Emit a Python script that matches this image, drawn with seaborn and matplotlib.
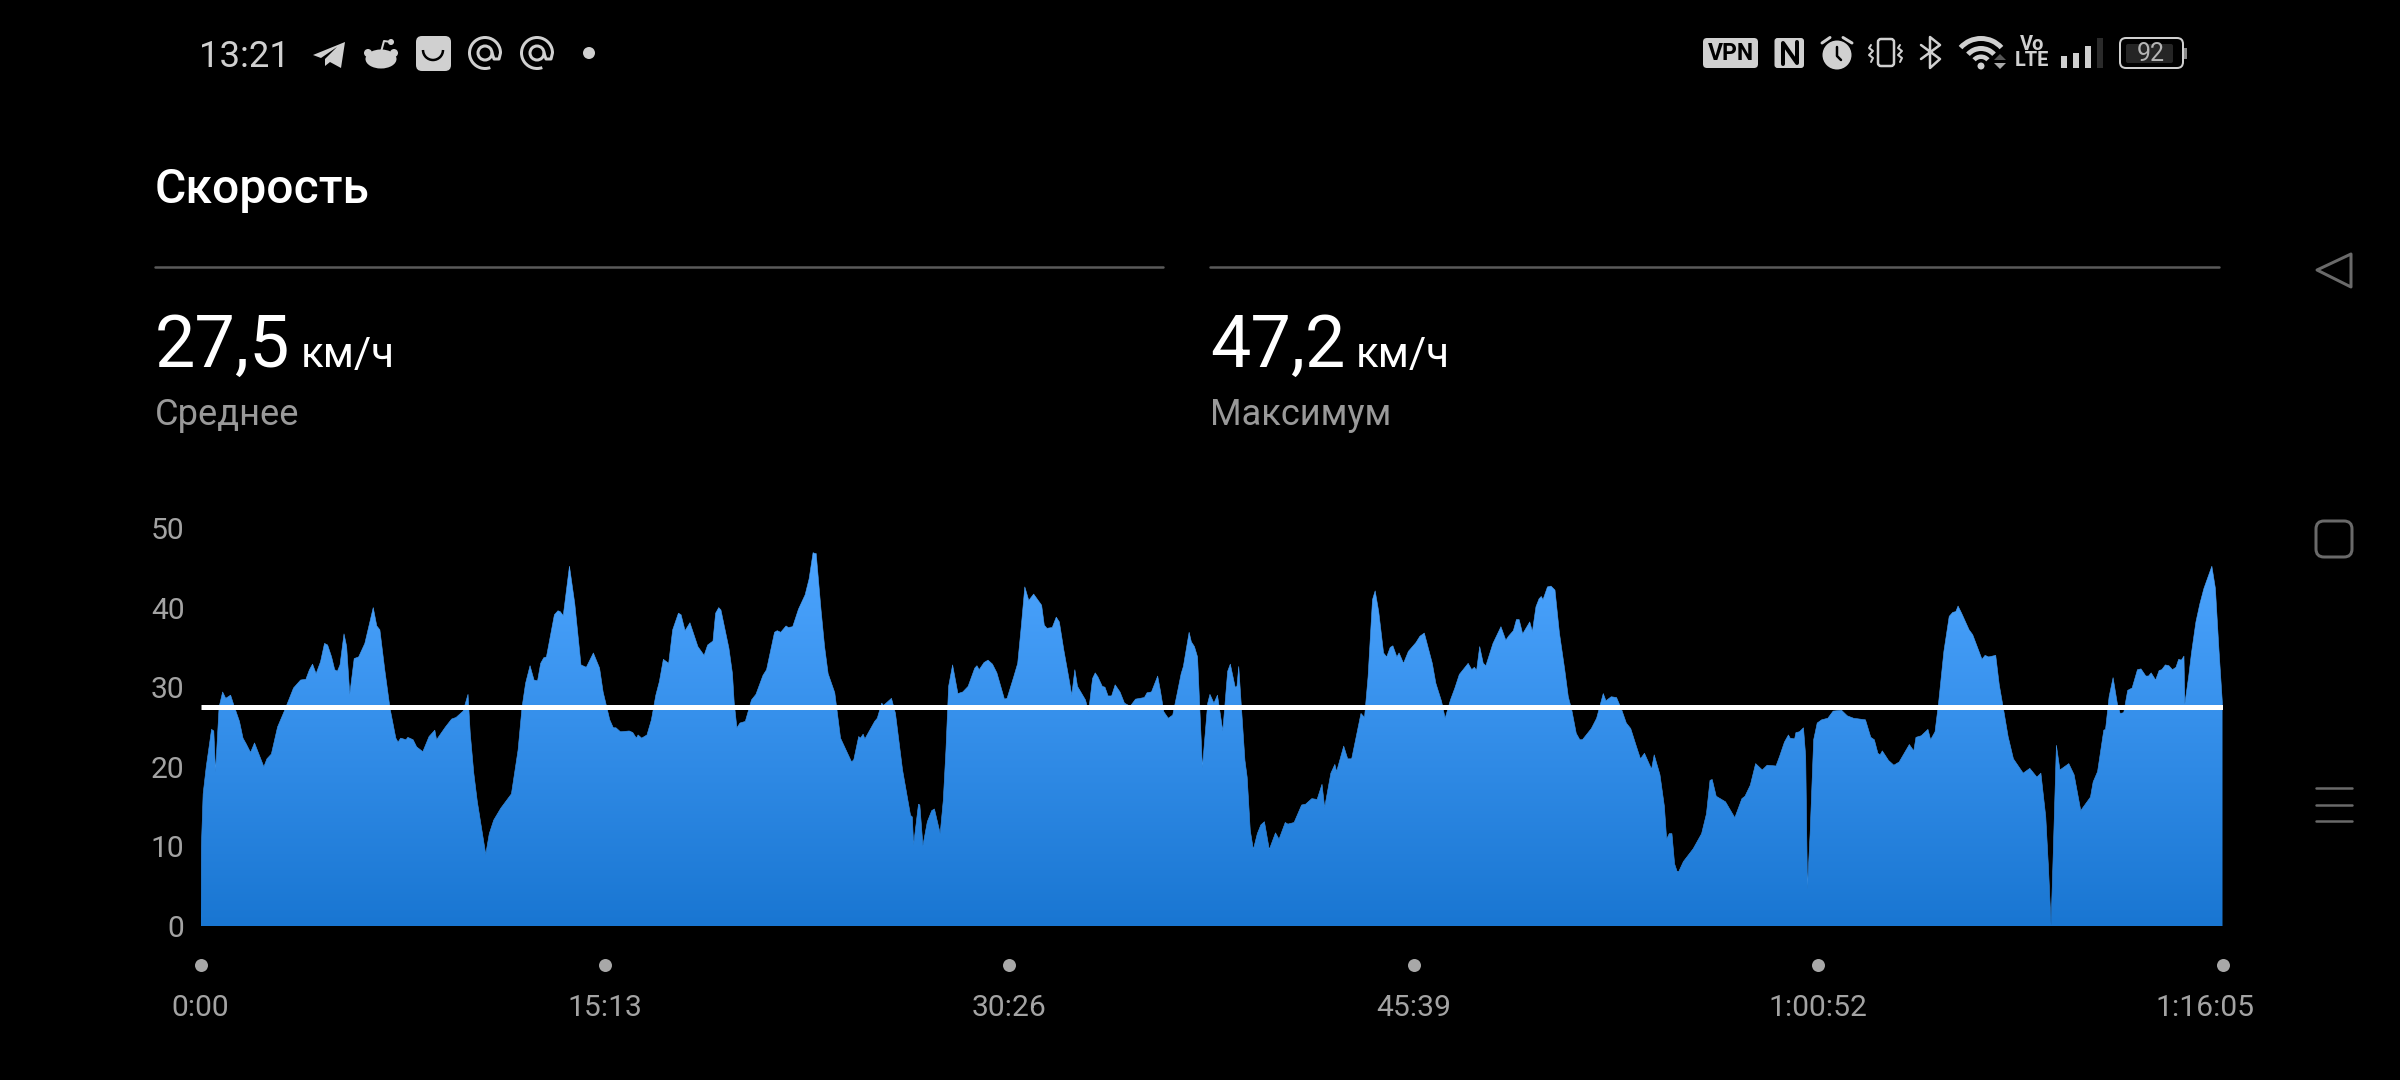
import numpy as np
import pandas as pd
import matplotlib
matplotlib.use("Agg")
import matplotlib.pyplot as plt
import seaborn as sns
from matplotlib.colors import LinearSegmentedColormap
from matplotlib.patches import Circle, Ellipse, FancyBboxPatch, Polygon, Wedge, Arc
from matplotlib.transforms import ScaledTranslation

# speed trace, seconds from start and km/h
seconds = [
    1, 2, 6, 13, 25, 30, 34, 42, 50, 57, 68, 75, 88, 96, 103, 113, 122, 143, 150, 160,
    174, 190, 210, 226, 238, 246, 253, 261, 271, 280, 287, 296, 303, 309, 315, 324, 330, 337, 347, 357,
    371, 390, 398, 405, 416, 428, 441, 446, 452, 464, 468, 480, 488, 502, 516, 529, 533, 553, 567, 577,
    593, 604, 609, 617, 625, 644, 652, 662, 678, 702, 717, 726, 734, 744, 753, 761, 768, 775, 781, 799,
    807, 812, 819, 833, 845, 859, 871, 887, 901, 909, 924, 932, 938, 948, 968, 976, 984, 988, 996, 1008,
    1018, 1028, 1036, 1045, 1057, 1066, 1079, 1085, 1094, 1105, 1123, 1137, 1145, 1157, 1163, 1170, 1175, 1193, 1201, 1205,
    1211, 1218, 1230, 1244, 1254, 1270, 1278, 1296, 1302, 1310, 1322, 1327, 1337, 1350, 1365, 1374, 1383, 1387, 1390, 1401,
    1409, 1417, 1432, 1445, 1470, 1475, 1486, 1490, 1496, 1500, 1522, 1528, 1538, 1542, 1560, 1569, 1585, 1603, 1607, 1610,
    1621, 1624, 1631, 1641, 1651, 1657, 1670, 1677, 1683, 1689, 1698, 1710, 1721, 1733, 1748, 1753, 1758, 1769, 1778, 1788,
    1798, 1815, 1821, 1836, 1845, 1853, 1861, 1870, 1881, 1899, 1905, 1911, 1923, 1932, 1939, 1949, 1960, 1967, 1974, 1980,
    1998, 2005, 2014, 2020, 2026, 2036, 2042, 2049, 2057, 2065, 2076, 2086, 2099, 2111, 2131, 2137, 2147, 2161, 2167, 2175,
    2185, 2195, 2205, 2214, 2219, 2232, 2237, 2244, 2251, 2256, 2262, 2274, 2279, 2288, 2296, 2308, 2319, 2325, 2336, 2340,
    2344, 2350, 2358, 2363, 2370, 2377, 2386, 2394, 2402, 2413, 2427, 2435, 2449, 2455, 2469, 2486, 2495, 2509, 2521, 2532,
    2538, 2552, 2561, 2565, 2581, 2590, 2599, 2620, 2628, 2636, 2646, 2652, 2660, 2671, 2678, 2686, 2692, 2701, 2706, 2716,
    2727, 2744, 2753, 2763, 2781, 2789, 2802, 2810, 2822, 2832, 2842, 2862, 2870, 2876, 2881, 2888, 2896, 2902, 2918, 2936,
    2947, 2953, 2964, 2971, 2977, 2985, 3001, 3007, 3015, 3022, 3027, 3031, 3041, 3049, 3058, 3068, 3080, 3088, 3096, 3106,
    3114, 3120, 3140, 3152, 3167, 3173, 3185, 3197, 3209, 3219, 3229, 3241, 3251, 3260, 3276, 3282, 3295, 3305, 3310, 3316,
    3322, 3328, 3334, 3338, 3348, 3370, 3389, 3400, 3408, 3413, 3422, 3443, 3464, 3480, 3487, 3499, 3511, 3526, 3537, 3557,
    3565, 3576, 3585, 3589, 3599, 3602, 3610, 3619, 3624, 3628, 3634, 3642, 3650, 3660, 3674, 3686, 3705, 3718, 3732, 3759,
    3771, 3779, 3787, 3792, 3797, 3811, 3823, 3835, 3858, 3868, 3873, 3885, 3900, 3906, 3916, 3924, 3936, 3948, 3956, 3963,
    3968, 3976, 3993, 4001, 4014, 4022, 4029, 4037, 4053, 4061, 4071, 4081, 4093, 4115, 4130, 4146, 4155, 4166, 4172, 4178,
    4182, 4190, 4198, 4218, 4230, 4245, 4267, 4273, 4283, 4297, 4301, 4309, 4318, 4328, 4334, 4342, 4351, 4361, 4373, 4381,
    4392, 4398, 4404, 4414, 4422, 4428, 4436, 4444, 4452, 4460, 4466, 4472, 4478, 4480, 4489, 4495, 4505, 4514, 4523, 4530,
    4541, 4549, 4557, 4565,
]
speed = [
    0, 9.9, 16.6, 20.0, 24.7, 24.5, 19.4, 27.5, 29.4, 28.6, 29.0, 27.8, 25.7, 23.6, 22.9, 21.8, 23.0, 20.0, 21.0, 21.6,
    25.0, 27.1, 29.9, 30.9, 31.0, 32.2, 32.9, 31.7, 33.2, 35.5, 35.3, 33.8, 32.2, 32.0, 32.8, 36.7, 35.1, 29.1, 33.6, 33.8,
    35.5, 40.0, 37.7, 37.2, 32.2, 27.3, 23.6, 23.1, 23.6, 23.4, 23.7, 23.4, 22.5, 21.9, 23.8, 24.6, 23.4, 25.0, 26.0, 26.2,
    27.0, 29.1, 24.2, 19.2, 15.6, 9.0, 11.6, 13.3, 14.8, 16.6, 22.1, 27.5, 30.5, 32.7, 30.9, 30.8, 33.0, 33.7, 33.8, 39.1,
    39.6, 39.5, 39.0, 45.2, 40.5, 32.8, 32.5, 34.3, 32.4, 29.4, 25.9, 24.9, 24.9, 24.4, 24.5, 24.3, 23.6, 24.0, 23.6, 24.0,
    25.9, 29.0, 30.7, 33.5, 33.0, 37.2, 39.3, 39.1, 37.1, 38.1, 35.1, 34.0, 35.3, 35.8, 39.3, 40.0, 39.7, 34.9, 31.7, 28.0,
    24.9, 25.5, 25.7, 28.4, 29.1, 31.5, 32.2, 36.9, 37.1, 36.9, 37.7, 37.5, 37.6, 39.8, 41.6, 43.6, 46.9, 46.8, 46.8, 39.7,
    35.1, 31.7, 29.3, 23.6, 20.6, 20.9, 23.8, 23.6, 24.1, 23.5, 25.7, 26.1, 28.0, 27.7, 28.6, 26.7, 19.6, 13.9, 13.7, 10.2,
    15.3, 15.2, 10.1, 13.1, 14.5, 14.7, 11.6, 15.8, 22.1, 30.1, 32.8, 29.2, 29.4, 30.1, 32.4, 32.7, 32.2, 33.1, 33.4, 32.9,
    31.8, 28.5, 28.6, 31.3, 33.0, 37.6, 42.6, 40.9, 41.7, 40.3, 37.8, 37.4, 37.5, 38.8, 38.2, 34.7, 31.3, 29.0, 32.2, 30.1,
    28.4, 26.9, 31.1, 31.8, 31.3, 30.1, 30.0, 28.9, 28.9, 30.3, 29.4, 28.0, 27.6, 28.5, 28.7, 29.3, 29.4, 31.4, 29.6, 26.9,
    26.1, 26.5, 29.2, 31.7, 32.6, 36.9, 35.7, 35.1, 33.8, 27.5, 19.9, 28.0, 29.1, 28.0, 29.0, 24.5, 32.0, 32.9, 30.0, 30.1,
    32.6, 27.5, 20.8, 18.7, 12.0, 9.6, 11.6, 12.7, 13.1, 9.6, 11.7, 10.9, 13.0, 12.8, 13.0, 15.2, 15.3, 16.0, 15.9, 17.8,
    14.9, 19.2, 20.3, 19.4, 22.6, 21.0, 21.0, 26.7, 26.2, 31.3, 41.0, 42.1, 39.5, 34.3, 33.8, 35.0, 35.2, 33.8, 34.3, 33.0,
    34.5, 35.6, 36.4, 36.8, 33.0, 30.5, 28.2, 26.1, 28.4, 29.9, 31.6, 33.0, 32.2, 32.5, 32.1, 35.1, 33.0, 32.7, 35.5, 37.6,
    35.9, 36.4, 37.1, 38.5, 38.5, 36.7, 38.2, 37.0, 40.1, 41.1, 41.4, 41.0, 42.6, 42.7, 42.2, 36.8, 32.2, 28.8, 27.1, 24.2,
    23.4, 23.4, 24.8, 26.1, 29.2, 28.3, 28.8, 28.7, 27.1, 25.5, 24.8, 22.7, 21.0, 21.7, 19.7, 21.5, 19.0, 15.0, 10.9, 11.6,
    11.6, 7.8, 6.8, 6.9, 8.1, 9.7, 11.6, 14.1, 18.3, 18.4, 16.3, 15.6, 13.6, 16.0, 16.3, 17.7, 20.4, 19.6, 20.2, 20.1,
    21.3, 23.1, 24.0, 23.6, 23.5, 24.3, 24.4, 24.9, 21.3, 4.7, 11.6, 23.4, 25.5, 25.9, 26.1, 27.0, 27.1, 26.4, 26.1, 25.9,
    23.7, 23.4, 21.7, 21.5, 22.0, 20.8, 20.2, 20.6, 22.8, 22.0, 23.7, 23.9, 24.7, 23.4, 24.4, 28.0, 34.5, 38.9, 39.4, 39.5,
    40.2, 39.3, 37.2, 36.6, 34.7, 33.5, 34.0, 33.8, 34.0, 30.3, 27.1, 23.8, 21.0, 19.2, 19.8, 18.7, 19.2, 13.7, 7.4, 0.1,
    7.4, 22.7, 19.6, 20.4, 19.0, 14.5, 16.2, 18.1, 19.4, 24.6, 24.7, 28.8, 31.2, 27.8, 26.7, 26.8, 29.6, 29.9, 32.2, 32.3,
    31.4, 31.4, 31.8, 30.9, 32.1, 32.2, 32.8, 32.7, 32.2, 32.5, 33.5, 33.4, 33.9, 27.9, 31.5, 34.3, 38.2, 40.5, 42.4, 43.5,
    45.2, 42.4, 34.7, 27.8,
]
mean_speed = 27.5
total_seconds = 4565
x_ticks = [0, 913, 1826, 2739, 3652, 4565]
x_labels = ["0:00", "15:13", "30:26", "45:39", "1:00:52", "1:16:05"]
y_ticks = [0, 10, 20, 30, 40, 50]

W, H = 2400, 1080
ICON = "#d0d0d0"
NAV = "#6a6a6a"


def px(size):
    # font size in points from a size in pixels
    return size * 72 / 100


def draw_chart(fig):
    ax = fig.add_axes([200.5 / W, 1 - 926 / H, 2022 / W, 398 / H])
    ax.set_facecolor("none")
    df = pd.DataFrame({"seconds": seconds, "speed": speed})
    sns.lineplot(data=df, x="seconds", y="speed", ax=ax, color="#4a9ff5", lw=0.4, zorder=2)
    area = ax.fill_between(df["seconds"], 0, df["speed"], color="none", lw=0)
    cmap = LinearSegmentedColormap.from_list("fade", ["#1976d2", "#4da5ff"])
    grad = ax.imshow(np.linspace(0, 1, 256).reshape(-1, 1), cmap=cmap, origin="lower", aspect="auto",
                     extent=(0, total_seconds, 0, max(speed)), zorder=2)
    grad.set_clip_path(area.get_paths()[0], transform=ax.transData)
    ax.axhline(mean_speed, color="white", lw=px(5), zorder=3, solid_capstyle="butt")

    ax.set_xlim(0, total_seconds)
    ax.set_ylim(0, 50)
    ax.set_xticks(x_ticks, x_labels)
    ax.set_yticks(y_ticks)
    ax.set_xlabel("")
    ax.set_ylabel("")
    ax.grid(False)
    sns.despine(ax=ax, left=True, bottom=True)
    ax.tick_params(axis="x", length=0, pad=49, labelsize=px(30), labelcolor="#a3a3a3")
    ax.tick_params(axis="y", length=0, pad=11.5, labelsize=px(30), labelcolor="#a3a3a3")
    # the last label is pulled back so it stays on screen
    last = ax.get_xticklabels()[-1]
    last.set_transform(last.get_transform() + ScaledTranslation(-18 / 100, 0, fig.dpi_scale_trans))
    # tick dots sit below the baseline
    ax.scatter(x_ticks, [-0.098] * len(x_ticks), s=px(13) ** 2, color="#a8a8a8", linewidths=0,
               transform=ax.get_xaxis_transform(), clip_on=False)


def draw_header(ov):
    ov.text(155, 203, "Скорость", color="white", fontsize=px(48), fontweight="medium", va="baseline")
    ov.plot([155, 1163], [267, 267], color="#5a5a5a", lw=px(2.5))
    ov.plot([1210, 2219], [267, 267], color="#5a5a5a", lw=px(2.5))
    for x0, big, name in [(155, "27,5", "Среднее"), (1210, "47,2", "Максимум")]:
        ov.text(x0, 367, big, color="white", fontsize=px(72), va="baseline")
        ov.text(x0 + 146, 367, "км/ч", color="white", fontsize=px(42), va="baseline")
        ov.text(x0, 425, name, color="#999999", fontsize=px(36.3), va="baseline")


def draw_at(ov, cx, cy):
    # the @ icon is drawn as strokes, the font glyph is too thin
    ov.add_patch(Arc((cx, cy), 31, 31, theta1=70, theta2=360, color=ICON, lw=px(3)))
    ov.add_patch(Circle((cx, cy), 7, fc="none", ec=ICON, lw=px(3)))
    ov.plot([cx + 15.5, cx + 14, cx + 9, cx + 7], [cy, cy + 6, cy + 6, cy], color=ICON, lw=px(3))


def draw_status_left(ov):
    ov.text(199, 67, "13:21", color=ICON, fontsize=px(36.5), va="baseline")
    ov.add_patch(Polygon([(313, 55), (345, 42), (341, 68), (330, 62), (325, 66), (325, 59), (337, 47), (321, 58)],
                         closed=True, color=ICON, lw=0))
    # reddit
    ov.add_patch(Ellipse((381, 59), 31, 19, color=ICON, lw=0))
    ov.add_patch(Circle((368, 53), 4, color=ICON, lw=0))
    ov.add_patch(Circle((394, 53), 4, color=ICON, lw=0))
    ov.plot([381, 384, 391], [52, 41, 42], color=ICON, lw=px(2))
    ov.add_patch(Circle((391, 42), 3, color=ICON, lw=0))
    # shop
    ov.add_patch(FancyBboxPatch((420, 40), 27, 27, boxstyle="round,pad=4,rounding_size=6", color=ICON, lw=0))
    ov.add_patch(Arc((433, 50), 20, 20, theta1=0, theta2=180, color="black", lw=px(2.5)))
    draw_at(ov, 485, 53)
    draw_at(ov, 537, 53)
    ov.add_patch(Circle((589, 53), 6, color=ICON, lw=0))


def draw_status_right(ov):
    ov.add_patch(FancyBboxPatch((1706, 41), 49, 24, boxstyle="round,pad=3,rounding_size=4", color=ICON, lw=0))
    ov.text(1730.5, 53.5, "VPN", color="black", fontsize=px(23), fontweight="bold", ha="center", va="center")
    # nfc
    ov.add_patch(FancyBboxPatch((1776.5, 40), 25.5, 26, boxstyle="round,pad=2,rounding_size=3", color=ICON, lw=0))
    ov.plot([1783, 1783, 1797, 1797], [64, 43, 63, 42], color="black", lw=px(4))
    # alarm
    ov.add_patch(Circle((1837, 55), 14.5, color=ICON, lw=0))
    ov.plot([1837, 1837, 1841], [47, 56, 60], color="black", lw=px(2.5))
    ov.plot([1822, 1830], [43, 37.5], color=ICON, lw=px(3))
    ov.plot([1843, 1852], [37.5, 43], color=ICON, lw=px(3))
    # vibrate
    ov.add_patch(FancyBboxPatch((1880, 41), 12, 23, boxstyle="round,pad=2,rounding_size=3", fc="none", ec=ICON, lw=px(2.5)))
    for x0 in (1871, 1900):
        ov.plot([x0, x0 - 2, x0 + 2, x0 - 2, x0 + 2, x0], [45, 48, 51, 55, 58, 62], color=ICON, lw=px(2))
    # bluetooth
    ov.plot([1921, 1940, 1930, 1930, 1940, 1921], [45, 59, 68, 37, 45, 59], color=ICON, lw=px(2.5))
    # wifi
    ov.add_patch(Circle((1981, 66), 3.5, color=ICON, lw=0))
    for r, w in [(30, 5), (20, 5), (11.5, 4.5)]:
        ov.add_patch(Wedge((1981, 66), r, 222, 318, width=w, color=ICON, lw=0))
    ov.add_patch(Polygon([(1994, 60), (2006, 60), (2000, 54)], closed=True, color="#555555", lw=0))
    ov.add_patch(Polygon([(1994, 63), (2006, 63), (2000, 69)], closed=True, color="#aaaaaa", lw=0))
    # volte
    narrow = ["Liberation Sans Narrow", "Roboto"]
    ov.text(2032, 44.5, "Vo", color=ICON, fontsize=px(20), fontweight="bold", family=narrow, ha="center", va="center")
    ov.text(2032, 61, "LTE", color=ICON, fontsize=px(20), fontweight="bold", family=narrow, ha="center", va="center")
    # signal
    for x0, top, c in [(2061, 56, ICON), (2073, 53, ICON), (2085, 46, ICON), (2097, 38, "#2a2a2a")]:
        ov.fill_between([x0, x0 + 6], top, 68, color=c, lw=0)
    # battery
    ov.add_patch(FancyBboxPatch((2123, 41), 57, 24, boxstyle="round,pad=3,rounding_size=6", fc="none", ec=ICON, lw=px(2)))
    ov.add_patch(FancyBboxPatch((2126, 44), 47, 19, boxstyle="round,pad=0,rounding_size=2", fc="#252525", ec="none"))
    ov.fill_between([2184, 2187], 48, 59, color="#888888", lw=0)
    ov.text(2151, 54, "92", color="#b5b5b5", fontsize=px(25), ha="center", va="center")


def draw_nav(ov):
    ov.add_patch(Polygon([(2317, 270), (2351, 254), (2351, 287)], closed=True, fc="none", ec=NAV, lw=px(3), joinstyle="round"))
    ov.add_patch(FancyBboxPatch((2321, 526), 26, 26, boxstyle="round,pad=5,rounding_size=8", fc="none", ec=NAV, lw=px(3)))
    for y0 in (788, 804.5, 821):
        ov.plot([2316, 2352], [y0, y0], color=NAV, lw=px(2.5))


def main():
    sns.set_theme(style="dark", rc={"figure.facecolor": "black", "axes.facecolor": "black", "savefig.facecolor": "black"})
    plt.rcParams["font.family"] = ["Roboto", "DejaVu Sans"]

    fig = plt.figure(figsize=(W / 100, H / 100), dpi=100)
    draw_chart(fig)

    # overlay in screen pixels for the header and the phone furniture
    ov = fig.add_axes([0, 0, 1, 1])
    ov.set_xlim(0, W)
    ov.set_ylim(H, 0)
    ov.axis("off")
    ov.patch.set_alpha(0)
    draw_header(ov)
    draw_status_left(ov)
    draw_status_right(ov)
    draw_nav(ov)

    fig.savefig("out.png", dpi=100)


if __name__ == "__main__":
    main()
